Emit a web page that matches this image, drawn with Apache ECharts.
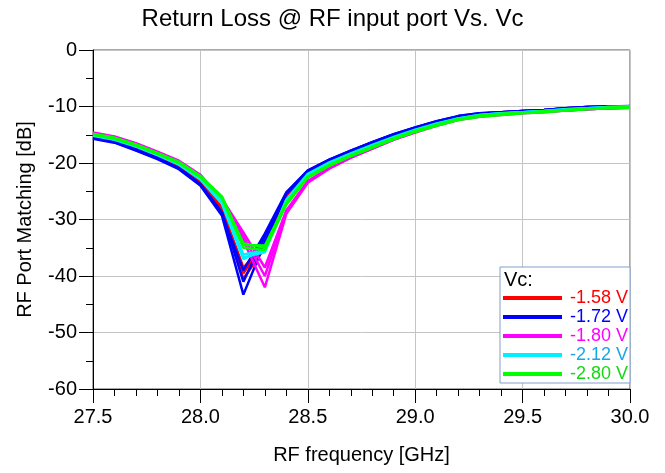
<!DOCTYPE html>
<html>
<head>
<meta charset="utf-8">
<script src="https://cdn.jsdelivr.net/npm/echarts@6/dist/echarts.min.js"></script>
<style>html,body{margin:0;padding:0;background:#fff;}#c{width:665px;height:473px;}</style>
</head>
<body>
<div id="c"></div>
<script>
const freqs = [27.5,27.6,27.7,27.8,27.9,28.0,28.1,28.2,28.3,28.4,28.5,28.6,28.7,28.8,28.9,29.0,29.1,29.2,29.3,29.4,29.5,29.6,29.7,29.8,29.9,30.0];

const vcLabels = ['-1.58 V','-1.72 V','-1.80 V','-2.12 V','-2.80 V'];
const lineColors = ['#ff0000','#0000ff','#ff00ff','#00f0ff','#00ff00'];
const textColors = ['#ff0000','#0000ff','#ff00ff','#1aa6e6','#14d814'];

const vc158 = [
  [-15.3,-16.0,-17.3,-18.8,-20.6,-23.3,-28.0,-38.5,-34.5,-26.0,-21.7,-19.7,-18.1,-16.6,-15.2,-14.0,-12.9,-12.0,-11.4,-11.1,-10.9,-10.7,-10.4,-10.2,-10.0,-10.0],
  [-15.2,-15.9,-17.2,-18.7,-20.5,-23.2,-27.8,-39.5,-34.0,-25.8,-21.6,-19.6,-18.0,-16.5,-15.1,-13.9,-12.8,-11.9,-11.3,-11.0,-10.8,-10.6,-10.3,-10.1,-10.0,-10.0],
  [-15.4,-16.1,-17.4,-18.9,-20.7,-23.4,-28.2,-40.5,-35.0,-26.2,-21.8,-19.8,-18.2,-16.7,-15.3,-14.1,-13.0,-12.1,-11.5,-11.2,-11.0,-10.8,-10.5,-10.3,-10.1,-10.0]
];
const vc172 = [
  [-15.6,-16.3,-17.7,-19.2,-21.0,-23.9,-29.0,-39.0,-32.5,-25.2,-21.3,-19.4,-17.8,-16.3,-14.9,-13.7,-12.6,-11.7,-11.2,-11.0,-10.8,-10.6,-10.3,-10.1,-10.0,-10.0],
  [-15.5,-16.2,-17.6,-19.1,-20.9,-23.7,-28.7,-41.0,-33.0,-25.3,-21.4,-19.4,-17.8,-16.3,-14.9,-13.7,-12.6,-11.7,-11.2,-11.0,-10.8,-10.6,-10.3,-10.1,-10.0,-9.9],
  [-15.7,-16.4,-17.8,-19.3,-21.1,-24.0,-29.3,-43.3,-34.0,-25.5,-21.5,-19.5,-17.9,-16.4,-15.0,-13.8,-12.7,-11.8,-11.3,-11.0,-10.8,-10.6,-10.3,-10.1,-10.0,-10.0]
];
const vc180 = [
  [-14.7,-15.4,-16.6,-18.1,-19.7,-22.2,-26.3,-32.3,-38.5,-28.4,-23.2,-20.8,-19.0,-17.4,-15.8,-14.5,-13.3,-12.3,-11.7,-11.4,-11.1,-10.9,-10.7,-10.5,-10.3,-10.2],
  [-14.8,-15.5,-16.7,-18.2,-19.8,-22.3,-26.5,-33.0,-40.0,-28.7,-23.3,-20.9,-19.0,-17.4,-15.8,-14.5,-13.3,-12.3,-11.7,-11.4,-11.1,-10.9,-10.7,-10.5,-10.3,-10.2],
  [-14.6,-15.3,-16.5,-18.0,-19.6,-22.1,-26.7,-33.7,-42.0,-29.0,-23.5,-21.0,-19.1,-17.5,-15.9,-14.6,-13.4,-12.4,-11.8,-11.5,-11.2,-11.0,-10.7,-10.5,-10.3,-10.2]
];
const vc212 = [
  [-15.1,-15.8,-17.0,-18.5,-20.2,-22.8,-27.0,-36.2,-35.5,-26.6,-22.0,-20.0,-18.4,-16.9,-15.5,-14.2,-13.1,-12.1,-11.5,-11.2,-11.0,-10.8,-10.5,-10.3,-10.1,-10.0],
  [-15.0,-15.7,-16.9,-18.4,-20.1,-22.7,-26.8,-36.7,-35.8,-26.5,-21.9,-19.9,-18.3,-16.8,-15.4,-14.1,-13.0,-12.1,-11.5,-11.2,-11.0,-10.8,-10.5,-10.3,-10.1,-10.0],
  [-15.2,-15.9,-17.1,-18.6,-20.3,-22.9,-27.2,-37.0,-35.2,-26.8,-22.1,-20.1,-18.5,-17.0,-15.6,-14.3,-13.2,-12.2,-11.6,-11.3,-11.0,-10.8,-10.6,-10.4,-10.2,-10.1]
];
const vc280 = [
  [-14.9,-15.6,-16.8,-18.3,-19.9,-22.4,-26.0,-34.2,-35.0,-27.2,-22.5,-20.4,-18.7,-17.2,-15.7,-14.4,-13.3,-12.3,-11.7,-11.4,-11.1,-10.9,-10.7,-10.4,-10.2,-10.1],
  [-14.8,-15.5,-16.7,-18.2,-19.8,-22.3,-25.9,-34.5,-34.6,-27.0,-22.4,-20.3,-18.6,-17.1,-15.6,-14.3,-13.2,-12.2,-11.6,-11.3,-11.1,-10.9,-10.6,-10.4,-10.2,-10.1],
  [-15.0,-15.7,-16.9,-18.4,-20.0,-22.5,-26.2,-35.0,-35.4,-27.4,-22.6,-20.5,-18.8,-17.3,-15.8,-14.5,-13.4,-12.4,-11.8,-11.5,-11.2,-11.0,-10.7,-10.5,-10.3,-10.2]
];

const groups = [vc158, vc172, vc180, vc212, vc280];
const FONT = '"Liberation Sans", Arial, sans-serif';

const series = [];
groups.forEach((curves, gi) => {
  curves.forEach(vals => {
    series.push({
      type: 'line',
      name: vcLabels[gi],
      data: freqs.map((f, i) => [f, vals[i]]),
      showSymbol: false,
      symbol: 'none',
      lineStyle: { color: lineColors[gi], width: 2.5 },
      itemStyle: { color: lineColors[gi] },
      emphasis: { disabled: true }
    });
  });
});

const chart = echarts.init(document.getElementById('c'), null, { renderer: 'canvas' });
chart.setOption({
  animation: false,
  backgroundColor: '#ffffff',
  title: {
    text: 'Return Loss @ RF input port Vs. Vc',
    left: 'center',
    top: 2,
    textStyle: { fontFamily: FONT, fontSize: 24, fontWeight: 'normal', color: '#000' }
  },
  grid: {
    left: 93, right: 35, top: 50, bottom: 84,
    show: true, borderColor: '#555555', borderWidth: 1, backgroundColor: 'transparent'
  },
  xAxis: {
    type: 'value',
    min: 27.5, max: 30.0, interval: 0.5,
    name: 'RF frequency [GHz]',
    nameLocation: 'middle',
    nameGap: 56,
    nameTextStyle: { fontFamily: FONT, fontSize: 20, color: '#000' },
    axisLine: { show: true, onZero: false, lineStyle: { color: '#000', width: 1 } },
    axisTick: { show: true, inside: false, length: 14, lineStyle: { color: '#000' } },
    minorTick: { show: true, splitNumber: 5, length: 7, lineStyle: { color: '#000' } },
    axisLabel: { fontFamily: FONT, fontSize: 20, color: '#000', margin: 18, formatter: v => v.toFixed(1) },
    splitLine: { show: true, lineStyle: { color: '#c4c4c4', width: 1 } }
  },
  yAxis: {
    type: 'value',
    min: -60, max: 0, interval: 10,
    name: 'RF Port Matching [dB]',
    nameLocation: 'middle',
    nameGap: 58,
    nameTextStyle: { fontFamily: FONT, fontSize: 20, color: '#000' },
    axisLine: { show: true, onZero: false, lineStyle: { color: '#000', width: 1 } },
    axisTick: { show: true, inside: false, length: 14, lineStyle: { color: '#000' } },
    minorTick: { show: true, splitNumber: 2, length: 7, lineStyle: { color: '#000' } },
    axisLabel: { fontFamily: FONT, fontSize: 20, color: '#000', margin: 16 },
    splitLine: { show: true, lineStyle: { color: '#c4c4c4', width: 1 } }
  },
  legend: {
    orient: 'vertical',
    left: 500,
    top: 267,
    padding: [22, 2, 0, 3],
    itemGap: 1,
    itemWidth: 59,
    itemHeight: 4,
    icon: 'rect',
    selectedMode: false,
    backgroundColor: '#ffffff',
    borderColor: '#7f9fd0',
    borderWidth: 1,
    textStyle: { fontFamily: FONT, fontSize: 18, lineHeight: 18, padding: [0, 0, 0, 3] },
    data: vcLabels.map((n, i) => ({ name: n, textStyle: { color: textColors[i] } }))
  },
  graphic: [{
    type: 'text',
    left: 504,
    top: 270,
    z: 100,
    style: { text: 'Vc:', font: '20px ' + FONT, fill: '#000' }
  }],
  series: series
});
</script>
</body>
</html>
